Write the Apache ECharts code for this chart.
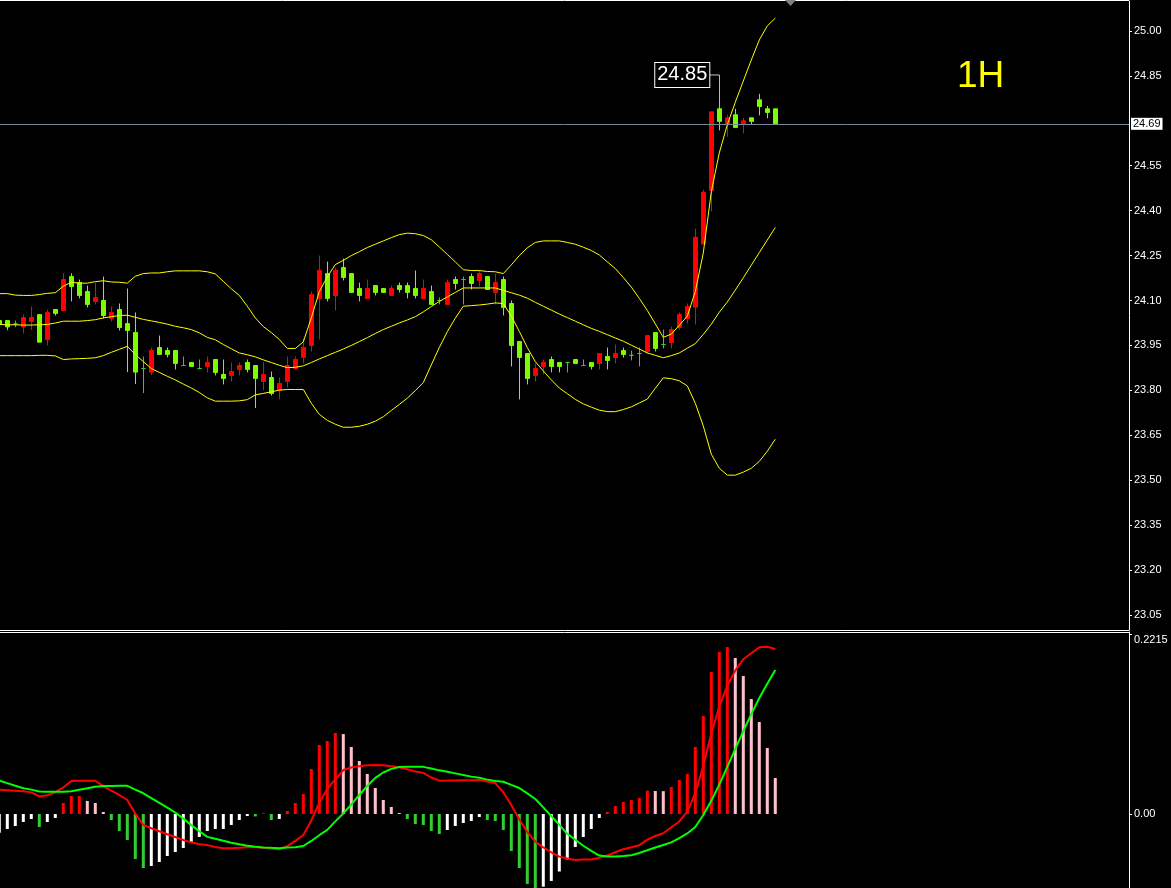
<!DOCTYPE html>
<html>
<head>
<meta charset="utf-8">
<script src="https://cdn.jsdelivr.net/npm/echarts@6/dist/echarts.min.js"></script>
<style>
html,body{margin:0;padding:0;background:#000;}
#chart{width:1171px;height:888px;}
</style>
</head>
<body>
<div id="chart"></div>
<script>
// ---------- data ----------
const timeframe = '1H';
const currentPrice = 24.69;

const opens = [
24.033,24.033,24.022,24.012,24.030,24.053,23.970,24.070,24.067,24.180,
24.160,24.130,24.097,24.100,24.040,24.070,24.023,23.993,23.873,23.861,
23.943,23.933,23.933,23.883,23.893,23.873,23.880,23.903,23.853,23.850,
23.870,23.893,23.883,23.830,23.843,23.800,23.830,23.873,23.910,23.950,
24.107,24.190,24.117,24.210,24.190,24.140,24.107,24.150,24.140,24.117,
24.150,24.150,24.140,24.107,24.130,24.100,24.087,24.170,24.170,24.180,
24.167,24.180,24.127,24.170,24.090,23.963,23.923,23.850,23.880,23.903,
23.893,23.893,23.903,23.883,23.893,23.890,23.913,23.910,23.933,23.917,
23.923,23.930,23.993,23.953,23.960,24.010,24.040,24.078,24.289,24.467,
24.740,24.690,24.720,24.688,24.710,24.770,24.740,24.740];

const closes = [
24.020,24.012,24.022,24.043,24.043,23.961,24.060,24.057,24.170,24.147,
24.117,24.087,24.110,24.050,24.060,24.010,24.000,23.861,23.873,23.933,
23.920,23.920,23.890,23.883,23.880,23.873,23.893,23.860,23.840,23.863,
23.883,23.870,23.840,23.853,23.790,23.823,23.883,23.903,23.943,24.120,
24.200,24.107,24.200,24.177,24.127,24.117,24.140,24.127,24.127,24.140,
24.137,24.127,24.117,24.140,24.087,24.100,24.160,24.157,24.170,24.157,
24.190,24.137,24.160,24.077,23.950,23.910,23.840,23.873,23.893,23.880,
23.880,23.893,23.890,23.883,23.880,23.923,23.900,23.923,23.920,23.917,
23.923,23.983,23.940,23.953,24.003,24.053,24.080,24.311,24.461,24.730,
24.698,24.710,24.678,24.700,24.698,24.748,24.728,24.690];

const lows = [
24.015,24.001,24.011,23.990,24.001,23.961,23.950,24.050,24.067,24.097,
24.107,24.077,24.087,24.040,24.030,24.000,23.861,23.821,23.791,23.851,
23.920,23.910,23.870,23.883,23.880,23.870,23.860,23.850,23.820,23.830,
23.850,23.860,23.741,23.801,23.783,23.770,23.810,23.870,23.890,23.930,
23.970,24.097,24.067,24.167,24.127,24.097,24.107,24.117,24.127,24.117,
24.127,24.107,24.107,24.107,24.087,24.087,24.087,24.137,24.087,24.137,
24.147,24.137,24.087,24.050,23.880,23.770,23.820,23.830,23.853,23.860,
23.860,23.860,23.890,23.883,23.870,23.870,23.870,23.890,23.910,23.900,
23.880,23.923,23.930,23.940,23.940,24.003,24.023,24.020,24.287,24.398,
24.668,24.647,24.678,24.658,24.688,24.718,24.708,24.690];

const highs = [
24.036,24.033,24.033,24.053,24.080,24.053,24.070,24.070,24.191,24.191,
24.170,24.150,24.160,24.180,24.080,24.090,24.140,24.060,23.913,23.943,
23.983,23.943,23.933,23.913,23.893,23.903,23.913,23.903,23.903,23.893,
23.893,23.903,23.883,23.893,23.863,23.843,23.913,23.913,23.973,24.130,
24.250,24.230,24.210,24.240,24.190,24.160,24.170,24.150,24.140,24.150,
24.160,24.160,24.200,24.170,24.150,24.110,24.170,24.180,24.180,24.190,
24.200,24.180,24.190,24.180,24.100,23.963,23.923,23.890,23.903,23.913,
23.893,23.893,23.903,23.903,23.893,23.923,23.943,23.953,23.943,23.933,
23.943,23.983,23.993,24.003,24.013,24.060,24.090,24.340,24.470,24.730,
24.853,24.720,24.740,24.710,24.710,24.790,24.750,24.740];

const bbUpper = [
24.123,24.123,24.118,24.117,24.117,24.120,24.124,24.126,24.148,24.161,
24.158,24.158,24.163,24.166,24.162,24.161,24.158,24.181,24.190,24.192,
24.192,24.196,24.199,24.199,24.199,24.199,24.196,24.189,24.164,24.139,
24.117,24.081,24.042,24.013,23.993,23.970,23.940,23.940,23.962,24.042,
24.130,24.179,24.220,24.234,24.250,24.263,24.277,24.288,24.299,24.310,
24.320,24.325,24.323,24.317,24.303,24.279,24.254,24.229,24.203,24.200,
24.200,24.197,24.196,24.190,24.219,24.250,24.276,24.294,24.299,24.299,
24.299,24.294,24.288,24.278,24.267,24.252,24.229,24.207,24.177,24.145,
24.107,24.067,24.022,23.977,23.988,24.017,24.048,24.130,24.259,24.463,
24.593,24.687,24.762,24.833,24.903,24.970,25.017,25.043];

const bbMiddle = [
24.020,24.019,24.019,24.018,24.018,24.019,24.020,24.025,24.031,24.031,
24.031,24.033,24.036,24.042,24.046,24.050,24.051,24.044,24.037,24.032,
24.027,24.021,24.014,24.009,24.003,23.992,23.977,23.969,23.953,23.939,
23.925,23.919,23.912,23.902,23.893,23.884,23.876,23.877,23.882,23.893,
23.905,23.916,23.927,23.938,23.950,23.963,23.976,23.990,24.003,24.014,
24.025,24.035,24.046,24.062,24.080,24.097,24.112,24.127,24.142,24.142,
24.142,24.142,24.142,24.134,24.126,24.118,24.108,24.094,24.081,24.068,
24.055,24.043,24.031,24.019,24.007,23.997,23.986,23.975,23.964,23.951,
23.938,23.925,23.917,23.909,23.916,23.925,23.941,23.956,23.987,24.021,
24.061,24.095,24.135,24.176,24.218,24.260,24.302,24.344];

const bbLower = [
23.916,23.916,23.916,23.916,23.916,23.917,23.917,23.915,23.903,23.905,
23.906,23.907,23.909,23.916,23.927,23.937,23.947,23.920,23.896,23.873,
23.860,23.847,23.835,23.821,23.808,23.793,23.775,23.764,23.764,23.764,
23.765,23.769,23.785,23.790,23.795,23.801,23.803,23.803,23.803,23.757,
23.720,23.700,23.687,23.677,23.677,23.680,23.687,23.697,23.712,23.733,
23.753,23.774,23.799,23.826,23.885,23.943,23.996,24.041,24.081,24.083,
24.085,24.088,24.092,24.090,24.048,23.997,23.943,23.896,23.865,23.835,
23.808,23.789,23.770,23.755,23.744,23.734,23.729,23.729,23.736,23.745,
23.758,23.771,23.807,23.842,23.839,23.832,23.815,23.757,23.681,23.587,
23.540,23.517,23.517,23.527,23.540,23.563,23.597,23.637];

const macdHist = [
-0.0230,-0.0185,-0.0148,-0.0098,-0.0062,-0.0160,-0.0098,-0.0049,0.0135,0.0222,
0.0222,0.0160,0.0135,0.0025,-0.0074,-0.0209,-0.0320,-0.0554,-0.0665,-0.0640,
-0.0591,-0.0517,-0.0468,-0.0418,-0.0345,-0.0283,-0.0209,-0.0185,-0.0185,-0.0135,
-0.0074,-0.0025,-0.0030,0.0009,-0.0074,-0.0062,0.0037,0.0135,0.0246,0.0554,
0.0849,0.0898,0.0997,0.0984,0.0825,0.0652,0.0492,0.0320,0.0172,0.0086,
0.0012,-0.0062,-0.0123,-0.0135,-0.0209,-0.0246,-0.0197,-0.0148,-0.0111,-0.0086,
-0.0037,-0.0074,-0.0086,-0.0197,-0.0455,-0.0665,-0.0861,-0.0960,-0.0895,-0.0824,
-0.0708,-0.0560,-0.0406,-0.0283,-0.0185,-0.0049,0.0025,0.0098,0.0148,0.0172,
0.0197,0.0287,0.0283,0.0281,0.0332,0.0418,0.0492,0.0825,0.1206,0.1747,
0.1994,0.2055,0.1920,0.1698,0.1415,0.1132,0.0812,0.0443];

const macdRed = [
0.0299,0.0293,0.0287,0.0281,0.0266,0.0216,0.0231,0.0268,0.0327,0.0406,
0.0410,0.0410,0.0409,0.0343,0.0288,0.0234,0.0172,0.0004,-0.0135,-0.0175,
-0.0213,-0.0249,-0.0284,-0.0320,-0.0349,-0.0373,-0.0383,-0.0407,-0.0422,-0.0422,
-0.0416,-0.0409,-0.0405,-0.0417,-0.0426,-0.0434,-0.0396,-0.0331,-0.0258,-0.0079,
0.0140,0.0311,0.0426,0.0541,0.0573,0.0589,0.0599,0.0603,0.0599,0.0588,
0.0575,0.0550,0.0523,0.0506,0.0449,0.0410,0.0411,0.0413,0.0415,0.0416,
0.0418,0.0400,0.0381,0.0267,0.0111,-0.0068,-0.0222,-0.0340,-0.0412,-0.0471,
-0.0525,-0.0548,-0.0565,-0.0561,-0.0559,-0.0538,-0.0511,-0.0471,-0.0434,-0.0409,
-0.0384,-0.0316,-0.0271,-0.0238,-0.0164,-0.0092,0.0030,0.0256,0.0593,0.0991,
0.1322,0.1581,0.1765,0.1905,0.1979,0.2053,0.2059,0.2030];

const macdGreen = [
0.0410,0.0380,0.0347,0.0317,0.0300,0.0277,0.0274,0.0274,0.0274,0.0279,
0.0298,0.0316,0.0335,0.0345,0.0346,0.0347,0.0347,0.0300,0.0255,0.0196,
0.0137,0.0078,0.0018,-0.0057,-0.0137,-0.0212,-0.0282,-0.0305,-0.0330,-0.0354,
-0.0373,-0.0390,-0.0404,-0.0411,-0.0417,-0.0421,-0.0413,-0.0409,-0.0394,-0.0332,
-0.0261,-0.0196,-0.0091,0.0007,0.0117,0.0234,0.0345,0.0445,0.0511,0.0555,
0.0578,0.0582,0.0582,0.0580,0.0559,0.0537,0.0519,0.0500,0.0480,0.0460,
0.0445,0.0423,0.0405,0.0397,0.0358,0.0320,0.0254,0.0185,0.0082,-0.0026,
-0.0134,-0.0244,-0.0317,-0.0391,-0.0455,-0.0512,-0.0522,-0.0523,-0.0516,-0.0507,
-0.0480,-0.0447,-0.0413,-0.0381,-0.0349,-0.0298,-0.0240,-0.0160,-0.0012,0.0162,
0.0361,0.0580,0.0802,0.1021,0.1229,0.1427,0.1603,0.1772];

const priceTicks = [23.05,23.20,23.35,23.50,23.65,23.80,23.95,24.10,24.25,24.40,24.55,24.85,25.00];
const macdTicks = [0, 0.2215];

// ---------- build ----------
const candleData = opens.map((o, i) => [i, o, closes[i], lows[i], highs[i]]);
const toXY = arr => arr.map((v, i) => [i, v]);
let maxI = 0;
highs.forEach((h, i) => { if (h > highs[maxI]) maxI = i; });

function histColor(i) {
  const v = macdHist[i];
  const p = i > 0 ? macdHist[i - 1] : null;
  if (v >= 0) return (p !== null && v < p) ? '#FFC0CB' : '#FF0000';
  return (p !== null && v < p) ? '#32CD32' : '#FFFFFF';
}

const X_MIN = 0.0875, X_MAX = 141.2125;
const FONT = 'Liberation Sans';

const hiddenX = (gi, pos) => ({
  type: 'value', gridIndex: gi, min: X_MIN, max: X_MAX, position: pos,
  axisLine: { show: true, onZero: false, lineStyle: { color: '#ffffff', width: 1 } },
  axisTick: { show: false }, axisLabel: { show: false }, splitLine: { show: false },
  minorTick: { show: false }, splitArea: { show: false }
});

const chart = echarts.init(document.getElementById('chart'), null, { renderer: 'canvas' });
chart.setOption({
  backgroundColor: '#000000',
  animation: false,
  title: {
    text: timeframe, left: 957, top: 58, padding: 0,
    textStyle: { color: '#FFFF00', fontSize: 37, fontWeight: 'normal', fontFamily: FONT }
  },
  grid: [
    { left: 0, right: 42, top: 1, height: 629 },
    { left: 0, right: 42, top: 632, bottom: 0 }
  ],
  xAxis: [hiddenX(0, 'bottom'), hiddenX(1, 'top')],
  yAxis: [
    {
      type: 'value', gridIndex: 0, position: 'right', min: 23.0, max: 25.1,
      axisLine: { show: true, onZero: false, lineStyle: { color: '#ffffff' } },
      axisTick: { show: true, length: 3, customValues: priceTicks, lineStyle: { color: '#ffffff' } },
      axisLabel: { customValues: priceTicks, formatter: v => v.toFixed(2), color: '#ffffff', fontSize: 11, fontFamily: FONT, margin: 5 },
      splitLine: { show: false }
    },
    {
      type: 'value', gridIndex: 1, position: 'right', min: -0.0911, max: 0.2240,
      axisLine: { show: true, onZero: false, lineStyle: { color: '#ffffff' } },
      axisTick: { show: true, length: 3, customValues: macdTicks, lineStyle: { color: '#ffffff' } },
      axisLabel: {
        customValues: macdTicks,
        formatter: v => v === 0 ? '0.00' : '{t|' + v.toFixed(4) + '}',
        rich: { t: { padding: [12, 0, 0, 0], color: '#ffffff', fontSize: 11, fontFamily: FONT } },
        color: '#ffffff', fontSize: 11, fontFamily: FONT, margin: 5
      },
      splitLine: { show: false }
    }
  ],
  graphic: [
    { type: 'line', z: 100, shape: { x1: 0, y1: 0.5, x2: 1129, y2: 0.5 }, style: { stroke: '#ffffff', lineWidth: 1 }, silent: true },
    { type: 'polygon', z: 101, shape: { points: [[785, 0], [796, 0], [790.5, 6]] }, style: { fill: '#808080' }, silent: true }
  ],
  series: [
    {
      type: 'candlestick', name: 'price', xAxisIndex: 0, yAxisIndex: 0,
      dimensions: ['idx', 'open', 'close', 'lowest', 'highest'],
      encode: { x: 0, y: [1, 2, 3, 4] },
      data: candleData, barWidth: 4,
      itemStyle: {
        color: '#FF0000', color0: '#7CFC00',
        borderColor: '#FF0000', borderColor0: '#7CFC00', borderColorDoji: '#32CD32',
        borderWidth: 1
      },
      markLine: {
        silent: true, symbol: 'none', animation: false,
        data: [{ yAxis: currentPrice }],
        lineStyle: { color: '#778899', width: 1, type: 'solid' },
        label: {
          position: 'end', distance: 2, formatter: () => currentPrice.toFixed(2),
          backgroundColor: '#ffffff', color: '#000000', fontSize: 11, fontFamily: FONT,
          padding: [1, 2, 0, 2]
        }
      },
      markPoint: {
        silent: true, animation: false,
        symbol: 'rect', symbolSize: [10, 1], symbolOffset: [-5, 0],
        itemStyle: { color: '#c8c8c8' },
        data: [{ coord: [maxI, highs[maxI]] }],
        label: {
          show: true, position: 'left', distance: 0,
          formatter: () => highs[maxI].toFixed(2),
          color: '#ffffff', fontSize: 20, fontFamily: FONT, lineHeight: 22,
          backgroundColor: '#000000', borderColor: '#ffffff', borderWidth: 1,
          padding: [2, 2, 0, 2]
        }
      }
    },
    { type: 'line', name: 'BB upper', xAxisIndex: 0, yAxisIndex: 0, data: toXY(bbUpper), showSymbol: false, symbol: 'none', lineStyle: { color: '#FFFF00', width: 1 } },
    { type: 'line', name: 'BB middle', xAxisIndex: 0, yAxisIndex: 0, data: toXY(bbMiddle), showSymbol: false, symbol: 'none', lineStyle: { color: '#FFFF00', width: 1 } },
    { type: 'line', name: 'BB lower', xAxisIndex: 0, yAxisIndex: 0, data: toXY(bbLower), showSymbol: false, symbol: 'none', lineStyle: { color: '#FFFF00', width: 1 } },
    {
      type: 'bar', name: 'hist', xAxisIndex: 1, yAxisIndex: 1, data: toXY(macdHist), barWidth: 3,
      itemStyle: { color: p => histColor(p.dataIndex) }
    },
    { type: 'line', name: 'MACD', xAxisIndex: 1, yAxisIndex: 1, data: toXY(macdRed), showSymbol: false, symbol: 'none', lineStyle: { color: '#FF0000', width: 2 } },
    { type: 'line', name: 'Signal', xAxisIndex: 1, yAxisIndex: 1, data: toXY(macdGreen), showSymbol: false, symbol: 'none', lineStyle: { color: '#00FF00', width: 2 } }
  ]
});
</script>
</body>
</html>
